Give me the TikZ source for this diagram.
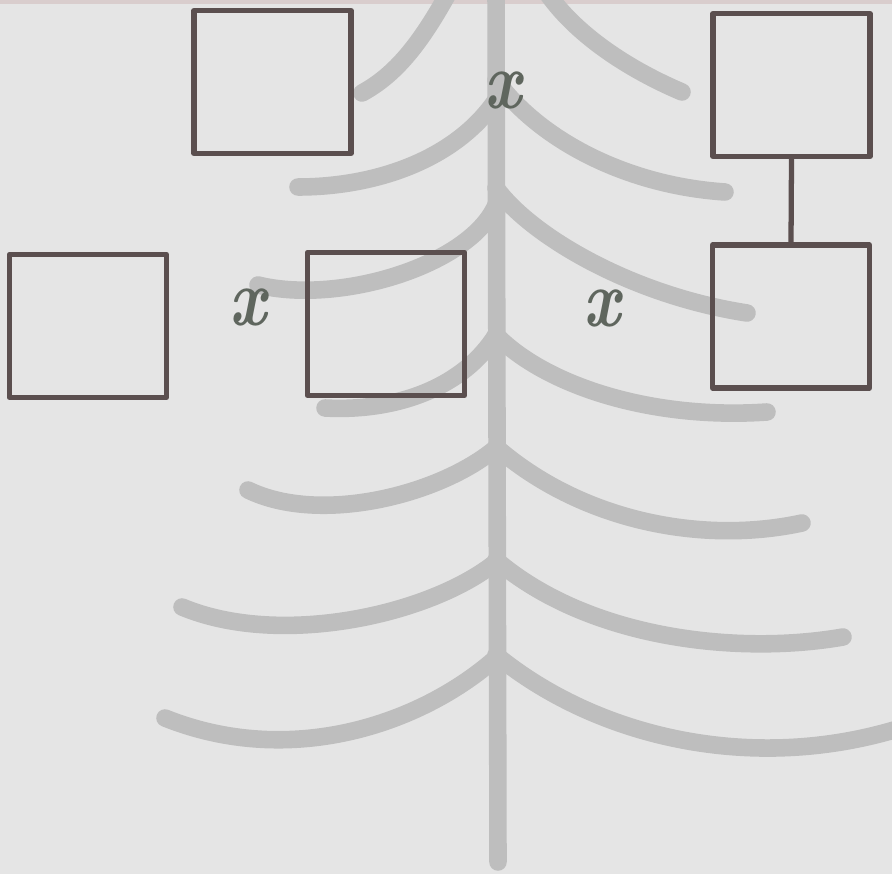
\documentclass[tikz,border=0pt]{standalone}
\usepackage{tikz}
\usepackage{graphicx}

\definecolor{paper}{HTML}{E5E5E5}
\definecolor{fern}{HTML}{BEBEBE}
\definecolor{boxline}{HTML}{5B4F4F}
\definecolor{mark}{HTML}{5F665E}
\definecolor{strip}{HTML}{D9CDCD}

\newcommand{\crossmark}{\scalebox{0.85}[1.05]{\textbf{\textit{x}}}}

\begin{document}
\begin{tikzpicture}[x=0.02cm, y=-0.02cm,
	frond/.style={draw=fern, line width=10pt, line cap=round},
	box/.style={draw=boxline, line width=3pt, line join=round, minimum width=3.14cm, minimum height=2.86cm, inner sep=0pt},
	cross/.style={text=mark, font=\fontsize{44}{44}\selectfont, inner sep=0pt}]
		% Background
		\fill[paper] (0,0) rectangle (892,874);
		\useasboundingbox (0,0) rectangle (892,874);
		\clip (0,0) rectangle (892,874);
		\fill[strip] (0,0) rectangle (892,4);
		
		% Draw the fern
		\draw[frond] (496,-10) -- (498,862);
		\draw[frond] (450,-10) .. controls (420,45) and (395,75) .. (362,93);
		\draw[frond] (496,100) .. controls (455,160) and (375,187) .. (298,187);
		\draw[frond] (496,205) .. controls (470,265) and (340,305) .. (258,285);
		\draw[frond] (496,335) .. controls (465,385) and (400,412) .. (325,408);
		\draw[frond] (496,448) .. controls (440,495) and (320,525) .. (248,490);
		\draw[frond] (496,562) .. controls (430,615) and (280,648) .. (182,607);
		\draw[frond] (496,658) .. controls (420,725) and (290,768) .. (165,718);
		
		\draw[frond] (545,-10) .. controls (575,35) and (630,70) .. (682,92);
		\draw[frond] (496,80) .. controls (535,135) and (620,185) .. (725,192);
		\draw[frond] (496,188) .. controls (530,235) and (630,295) .. (747,313);
		\draw[frond] (496,335) .. controls (545,385) and (650,420) .. (767,412);
		\draw[frond] (496,447) .. controls (580,520) and (700,545) .. (802,523);
		\draw[frond] (496,560) .. controls (590,640) and (740,655) .. (843,637);
		\draw[frond] (496,655) .. controls (600,740) and (760,775) .. (910,725);
		
		% Draw the boxes
		\node[box] (A) at (272.5,82) {};
		\node[box] (B) at (791.5,85) {};
		\node[box] (C) at (791,316.5) {};
		\node[box] (D) at (386,324) {};
		\node[box] (E) at (88,326) {};
		
		\draw[boxline, line width=3pt] (B.south) -- (C.north);
		
		% Draw the marks
		\node[cross] (X1) at (504,90) {\crossmark};
		\node[cross] (X2) at (249,307) {\crossmark};
		\node[cross] (X3) at (603,308) {\crossmark};
	\end{tikzpicture}
\end{document}
